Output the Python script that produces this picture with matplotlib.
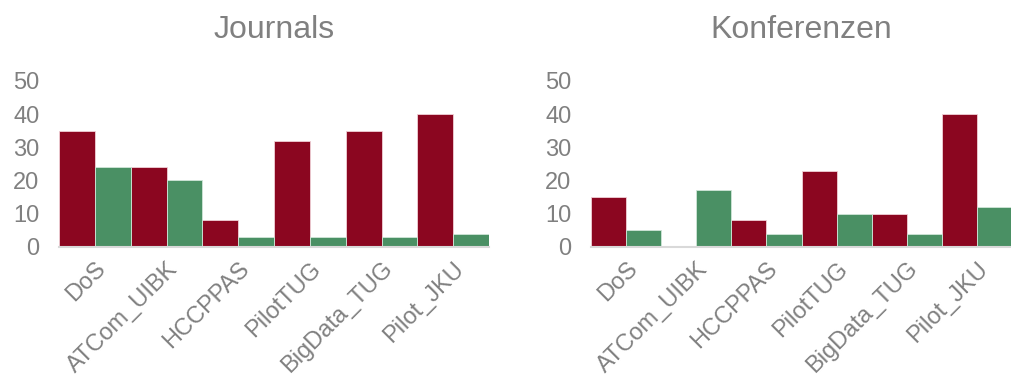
import matplotlib.pyplot as plt
import numpy as np

plt.rcParams['font.family'] = ['Liberation Sans', 'DejaVu Sans']

categories = ['DoS', 'ATCom_UIBK', 'HCCPPAS', 'PilotTUG', 'BigData_TUG', 'Pilot_JKU']
journals_red = [35, 24, 8, 32, 35, 40]
journals_green = [24, 20, 3, 3, 3, 4]
konf_red = [15, 0, 8, 23, 10, 40]
konf_green = [5, 17, 4, 10, 4, 12]

red = '#8B0620'
green = '#4A9064'
grey = '#808080'

fig = plt.figure(figsize=(10.12, 3.82), dpi=100)
ax1 = fig.add_axes([0.0583, 0.354, 0.425, 0.434])
ax2 = fig.add_axes([0.584, 0.354, 0.416, 0.434])

x = np.arange(len(categories))
for ax, title, r, g in [(ax1, 'Journals', journals_red, journals_green),
                        (ax2, 'Konferenzen', konf_red, konf_green)]:
    ax.bar(x - 0.25, r, 0.5, color=red, edgecolor='#f0d0d6', linewidth=0.6)
    ax.bar(x + 0.25, g, 0.5, color=green, edgecolor='#d0e6d8', linewidth=0.6)
    ax.set_xlim(-0.5, len(categories) - 0.5)
    ax.set_ylim(0, 50)
    ax.set_yticks([0, 10, 20, 30, 40, 50])
    ax.set_xticks(x)
    ax.set_xticklabels(categories, rotation=45, ha='right', rotation_mode='anchor')
    ax.tick_params(axis='both', length=0, labelsize=17, labelcolor=grey)
    ax.tick_params(axis='y', pad=14)
    ax.tick_params(axis='x', pad=8)
    for s in ['top', 'right', 'left']:
        ax.spines[s].set_visible(False)
    ax.spines['bottom'].set_color('#d9d9d9')
    ax.spines['bottom'].set_linewidth(1.5)
    ax.set_title(title, fontsize=23, color=grey, pad=31)

fig.savefig('out.png', dpi=100)
